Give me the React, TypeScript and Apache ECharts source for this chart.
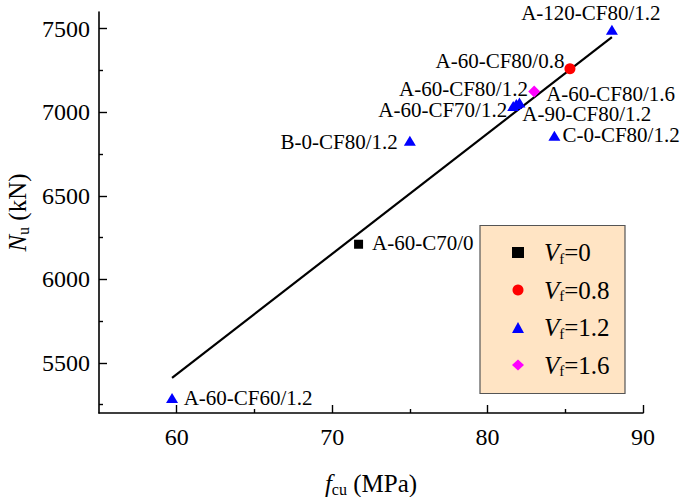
import React, { useEffect, useRef } from 'react';
import * as echarts from 'echarts';

// ---- data ----
const groups = ['0', '0.8', '1.2', '1.6'];
const specimens = [
  'A-60-C70/0',
  'A-60-CF80/0.8',
  'A-120-CF80/1.2',
  'A-60-CF80/1.2',
  'A-60-CF70/1.2',
  'A-90-CF80/1.2',
  'C-0-CF80/1.2',
  'B-0-CF80/1.2',
  'A-60-CF60/1.2',
  'A-60-CF80/1.6',
];
const fcu = [71.7, 85.3, 88.0, 82.05, 81.65, 81.85, 84.3, 75.0, 59.7, 83.0];
const Nu = [6210, 7260, 7494, 7059, 7038, 7050, 6860, 6830, 5290, 7124];
const vf = ['0', '0.8', '1.2', '1.2', '1.2', '1.2', '1.2', '1.2', '1.2', '1.6'];

const fitX = [59.7, 88.0];
const fitY = [5410, 7450];

const xLabels = [60, 70, 80, 90];
const xMinor = [65, 75, 85];
const yLabels = [5500, 6000, 6500, 7000, 7500];
const yMinor = [5250, 5750, 6250, 6750, 7250];

// ---- styles / label placement (not data) ----
const serif = 'Liberation Serif';
const groupStyle: Record<string, { symbol: string; size: any; color: string }> = {
  '0': { symbol: 'rect', size: 9, color: '#000000' },
  '0.8': { symbol: 'circle', size: 11, color: '#FF0000' },
  '1.2': { symbol: 'triangle', size: [12, 10], color: '#0000FF' },
  '1.6': { symbol: 'diamond', size: 12, color: '#FF00FF' },
};
const labelPlace: Record<string, { position: string; offset: number[] }> = {
  'A-60-C70/0': { position: 'right', offset: [9, -1] },
  'A-60-CF80/0.8': { position: 'left', offset: [0, -8] },
  'A-120-CF80/1.2': { position: 'top', offset: [-21, -1] },
  'A-60-CF80/1.2': { position: 'left', offset: [14.5, -13] },
  'A-60-CF70/1.2': { position: 'left', offset: [0, 4] },
  'A-90-CF80/1.2': { position: 'right', offset: [0, 10.5] },
  'C-0-CF80/1.2': { position: 'right', offset: [2, -1] },
  'B-0-CF80/1.2': { position: 'left', offset: [-6, 1] },
  'A-60-CF60/1.2': { position: 'right', offset: [5.6, 0] },
  'A-60-CF80/1.6': { position: 'right', offset: [6, 2] },
};

export default function App() {
  const ref = useRef<HTMLDivElement>(null);
  useEffect(() => {
    const chart = echarts.init(ref.current!, null, { renderer: 'svg' });

    const scatterSeries = groups.map((g) => {
      const st = groupStyle[g];
      const data = specimens
        .map((name, i) => ({ name, i }))
        .filter((d) => vf[d.i] === g)
        .map((d) => ({
          name: d.name,
          value: [fcu[d.i], Nu[d.i]],
          label: {
            show: true,
            position: labelPlace[d.name].position,
            offset: labelPlace[d.name].offset,
            distance: 0,
          },
        }));
      return {
        type: 'scatter',
        name: 'Vf=' + g,
        symbol: st.symbol,
        symbolSize: st.size,
        itemStyle: { color: st.color, opacity: 1 },
        data,
        z: 3,
        label: {
          show: true,
          formatter: (p: any) => p.name,
          color: '#000',
          fontFamily: serif,
          fontSize: 21,
        },
        emphasis: { disabled: true },
      };
    });

    const nameRich = (size: number) => ({
      i: { fontStyle: 'italic', fontSize: size, fontFamily: serif, color: '#000', lineHeight: 28 },
      s: { fontSize: 16, fontFamily: serif, color: '#000', lineHeight: 14, verticalAlign: 'bottom' },
      t: { fontSize: size, fontFamily: serif, color: '#000', lineHeight: 28 },
    });

    const axisCommon = {
      type: 'value',
      splitLine: { show: false },
    };
    const plain = (v: number) => String(v);

    const option: any = {
      animation: false,
      backgroundColor: '#ffffff',
      textStyle: { fontFamily: serif },
      grid: { left: 99, right: 44, top: 12, bottom: 84, containLabel: false, outerBoundsMode: 'none' },
      graphic: [
        {
          type: 'rect',
          shape: { x: 480, y: 225.5, width: 145, height: 168 },
          style: { fill: '#FFE4C4', stroke: '#555555', lineWidth: 1.2 },
          z: 1,
          silent: true,
        },
      ],
      legend: {
        orient: 'vertical',
        left: 512,
        top: 240,
        padding: 0,
        itemGap: 11.5,
        itemWidth: 12,
        itemHeight: 11,
        selectedMode: false,
        z: 5,
        data: groups.map((g) => 'Vf=' + g),
        formatter: (name: string) => `{g| }{v|V}{s|f}{t|${name.slice(2)}}`,
        textStyle: {
          fontFamily: serif,
          color: '#000',
          rich: {
            g: { width: 15, fontSize: 10, lineHeight: 27 },
            v: { fontStyle: 'italic', fontSize: 25, fontFamily: serif, color: '#000', lineHeight: 27 },
            s: { fontSize: 15, fontFamily: serif, color: '#000', lineHeight: 13, verticalAlign: 'bottom' },
            t: { fontSize: 25, fontFamily: serif, color: '#000', lineHeight: 27 },
          },
        },
      },
      xAxis: [
        {
          ...axisCommon,
          min: 55,
          max: 90,
          position: 'bottom',
          axisLine: { show: true, onZero: false, lineStyle: { color: '#000', width: 1.6 } },
          axisTick: { show: true, inside: true, length: 8, customValues: xLabels, lineStyle: { color: '#000', width: 1.4 } },
          axisLabel: { customValues: xLabels, formatter: plain, fontSize: 24, fontFamily: serif, color: '#000', margin: 12 },
          name: '{i|f}{s|cu}{t| (MPa)}',
          nameLocation: 'middle',
          nameGap: 56,
          nameTextStyle: { rich: nameRich(25) },
        },
        {
          ...axisCommon,
          min: 55,
          max: 90,
          position: 'bottom',
          offset: 0,
          axisLine: { show: false, onZero: false },
          axisTick: { show: true, inside: true, length: 4, customValues: xMinor, lineStyle: { color: '#000', width: 1.4 } },
          axisLabel: { show: false, customValues: xMinor },
        },
      ],
      yAxis: [
        {
          ...axisCommon,
          min: 5200,
          max: 7600,
          position: 'left',
          axisLine: { show: true, onZero: false, lineStyle: { color: '#000', width: 1.6 } },
          axisTick: { show: true, inside: true, length: 8, customValues: yLabels, lineStyle: { color: '#000', width: 1.4 } },
          axisLabel: { customValues: yLabels, formatter: plain, fontSize: 24, fontFamily: serif, color: '#000', margin: 9 },
          name: '{i|N}{s|u}{t| (kN)}',
          nameLocation: 'middle',
          nameGap: 62,
          nameTextStyle: { rich: nameRich(25) },
        },
        {
          ...axisCommon,
          min: 5200,
          max: 7600,
          position: 'left',
          offset: 0,
          axisLine: { show: false, onZero: false },
          axisTick: { show: true, inside: true, length: 4, customValues: yMinor, lineStyle: { color: '#000', width: 1.4 } },
          axisLabel: { show: false, customValues: yMinor },
        },
      ],
      series: [
        {
          type: 'line',
          name: 'fit',
          data: fitX.map((x, i) => [x, fitY[i]]),
          showSymbol: false,
          symbol: 'none',
          lineStyle: { color: '#000', width: 2.2 },
          z: 2,
          silent: true,
          emphasis: { disabled: true },
        },
        ...scatterSeries,
      ],
    };

    chart.setOption(option);
    return () => chart.dispose();
  }, []);
  return (
    <div
      ref={ref}
      style={{ position: 'fixed', left: 0, top: 0, width: 687, height: 497, background: '#fff' }}
    />
  );
}
